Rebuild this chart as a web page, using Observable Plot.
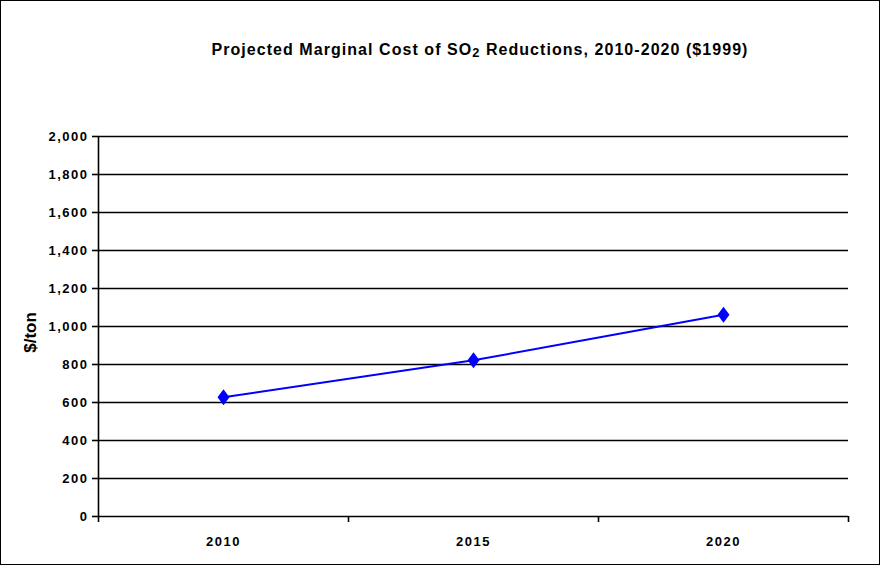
<!DOCTYPE html>
<html>
<head>
<meta charset="utf-8">
<script src="https://cdn.jsdelivr.net/npm/d3@7"></script>
<script src="https://cdn.jsdelivr.net/npm/@observablehq/plot@0.6"></script>
<style>
  html, body { margin: 0; padding: 0; background: #fff; }
  #wrap { position: relative; width: 880px; height: 565px; font-family: "Liberation Sans", Arial, sans-serif; }
  #border { position: absolute; left: 0; top: 0; width: 878px; height: 563px; border: 1px solid #000; pointer-events: none; }
  #title { position: absolute; left: 0; width: 880px; top: 41px; text-align: center; font-weight: bold; font-size: 16px; color: #000; letter-spacing: 1.05px; padding-left: 80px; box-sizing: border-box; white-space: nowrap; }
  #title sub { font-size: 0.8em; vertical-align: -2px; }
  #chart svg text { font-family: "Liberation Sans", Arial, sans-serif; }
</style>
</head>
<body>
<div id="wrap">
  <div id="chart"></div>
  <div id="title">Projected Marginal Cost of SO<sub>2</sub> Reductions, 2010-2020 ($1999)</div>
  <div id="border"></div>
</div>
<script>
const years = ["2010", "2015", "2020"];
const costs = [628, 822, 1062];
const yTicks = [0, 200, 400, 600, 800, 1000, 1200, 1400, 1600, 1800, 2000];
const yLabel = "$/ton";

const data = years.map((y, i) => ({year: y, pos: i + 0.5, cost: costs[i]}));
const boundaries = d3.range(years.length + 1);

const diamond = {
  draw(ctx, size) {
    const s = Math.sqrt(size) / 2;
    ctx.moveTo(0, -s * 1.33);
    ctx.lineTo(s, 0);
    ctx.lineTo(0, s * 1.33);
    ctx.lineTo(-s, 0);
    ctx.closePath();
  }
};

const chart = Plot.plot({
  width: 880,
  height: 565,
  marginLeft: 98,
  marginRight: 32,
  marginTop: 136,
  marginBottom: 49,
  style: {fontFamily: "Liberation Sans, Arial, sans-serif", fontSize: "13px", fontWeight: "bold", color: "#000", background: "transparent"},
  x: {domain: [0, years.length], axis: null},
  y: {domain: [0, 2000], axis: null},
  marks: [
    Plot.ruleY(yTicks, {stroke: "#000", strokeWidth: 1.6}),
    Plot.ruleX([0], {stroke: "#000", strokeWidth: 1.6}),
    Plot.axisY({ticks: yTicks, tickFormat: d3.format(","), tickSize: 6, tickPadding: 4, label: null, fontSize: 13, fontWeight: "bold", stroke: "#000", strokeWidth: 1.6}),
    Plot.axisX({ticks: boundaries, tickFormat: () => "", tickSize: 6, stroke: "#000", strokeWidth: 1.6, label: null}),
    Plot.text(years, {x: (d, i) => i + 0.5, frameAnchor: "bottom", dy: 29, text: d => d, fontSize: 13, fontWeight: "bold", fill: "#000", className: "ticklab"}),
    Plot.text([yLabel], {frameAnchor: "left", textAnchor: "middle", dx: -68, dy: 6, rotate: -90, text: d => d, fontSize: 17, fontWeight: "bold", fill: "#000"}),
    Plot.line(data, {x: "pos", y: "cost", stroke: "#0000ff", strokeWidth: 2}),
    Plot.dot(data, {x: "pos", y: "cost", symbol: diamond, r: 6.8, fill: "#0000ff", stroke: "none"})
  ]
});
document.getElementById("chart").appendChild(chart);
d3.select(chart).selectAll("g[aria-label='y-axis tick label'] text, .ticklab text").style("letter-spacing", "1.5px");
</script>
</body>
</html>
